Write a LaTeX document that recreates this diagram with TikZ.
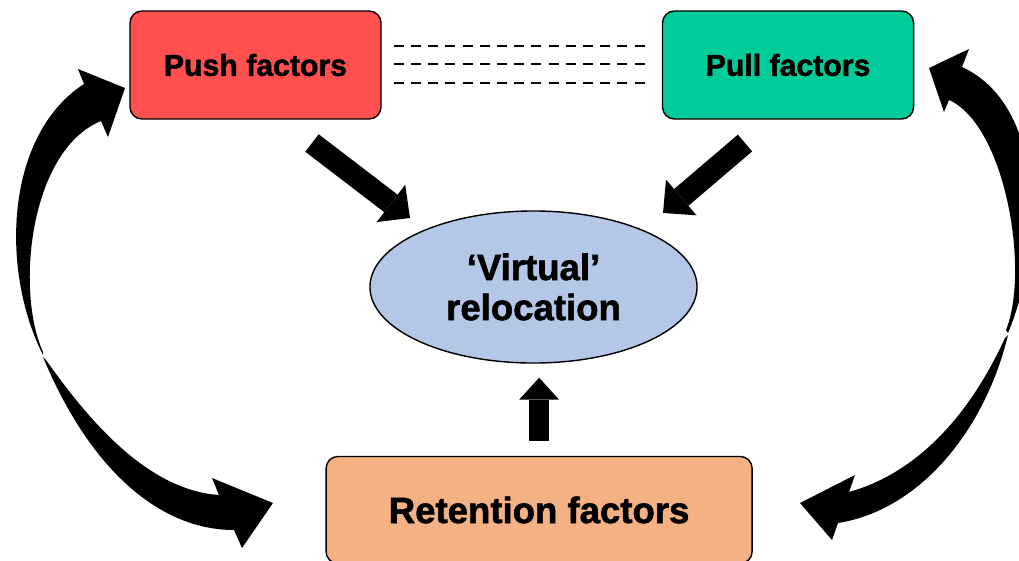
\documentclass[tikz,border=0pt]{standalone}
\usepackage{fontspec}
\setmainfont{Liberation Sans}[BoldFeatures={FakeBold=1.6}]
\usetikzlibrary{positioning,shapes.geometric,arrows.meta}

\definecolor{pushred}{HTML}{FF5050}
\definecolor{pullgreen}{HTML}{00CC99}
\definecolor{retainorange}{HTML}{F4B183}
\definecolor{relocblue}{HTML}{B4C7E7}

\begin{document}
\begin{tikzpicture}[x=0.025cm, y=-0.025cm,
        factor/.style={draw, line width=1pt, rounded corners=0.3cm, inner sep=0pt,
            minimum width=6.275cm, minimum height=2.7cm,
            font=\bfseries\fontsize{21.5}{24}\selectfont},
        bigarrow/.style={line width=0.55cm,
            -{Triangle[length=0.6cm, width=1.175cm, line width=0pt]}},
        linkdash/.style={line width=1.8pt, dash pattern=on 0.25cm off 0.18cm}]
        \useasboundingbox (0,0) rectangle (1019,560);
        % Factor boxes and the outcome in the middle
        \node[factor, fill=pushred] (push) at (255.5,65) {Push factors};
        \node[factor, fill=pullgreen, right=7cm of push] (pull) {Pull factors};
        \node[ellipse, draw, line width=1pt, fill=relocblue, inner sep=0pt,
            minimum width=8.175cm, minimum height=3.8cm, align=center,
            font=\bfseries\fontsize{26}{28.5}\selectfont] (reloc) at (533.5,287) {‘Virtual’\\relocation};
        \node[factor, fill=retainorange, minimum width=10.65cm, minimum height=2.675cm,
            font=\bfseries\fontsize{26}{28}\selectfont,
            below=2.3cm of reloc, xshift=0.14cm] (retain) {Retention factors};
        % Dashed link between push and pull
        \foreach \dy in {0.475,0.025,-0.45}
            \draw[linkdash, shorten <=0.3cm, shorten >=0.4cm] ([yshift=\dy cm]push.east) -- ([yshift=\dy cm]pull.west);
        % Block arrows into the ellipse
        \coordinate (pushtail) at (312,143);
        \coordinate (pushtip) at (410,218);
        \coordinate (pulltail) at (745,143);
        \coordinate (pulltip) at (663,213);
        \draw[bigarrow] (pushtail) -- (pushtip);
        \draw[bigarrow] (pulltail) -- (pulltip);
        \draw[bigarrow, line width=0.5cm, -{Triangle[length=0.55cm, width=1cm, line width=0pt]},
            shorten <=0.375cm, shorten >=0.35cm] (retain.north) -- (retain.north |- reloc.south);
        % Curved arrows on the left
        \fill (43,355) .. controls (0,270) and (5,135) .. (84,84) -- (78,69) -- (125,88) -- (108,137)
            -- (101,121) .. controls (30,150) and (15,290) .. (43,352) -- cycle;
        \fill (43,357) .. controls (90,470) and (160,530) .. (234,530) -- (242,548) -- (273,503) -- (212,478)
            -- (219,495) .. controls (145,490) and (85,415) .. (46,360) -- cycle;
        % Curved arrows on the right
        \fill (1008,333) .. controls (1045,245) and (1045,105) .. (962,67) -- (969,49) -- (929,68) -- (944,112)
            -- (949,100) .. controls (1005,125) and (1030,270) .. (1006,330) -- cycle;
        \fill (1008,335) .. controls (985,430) and (920,510) .. (838,523) -- (832,540) -- (800,503) -- (855,475)
            -- (849,492) .. controls (910,475) and (965,425) .. (1005,338) -- cycle;
\end{tikzpicture}
\end{document}
